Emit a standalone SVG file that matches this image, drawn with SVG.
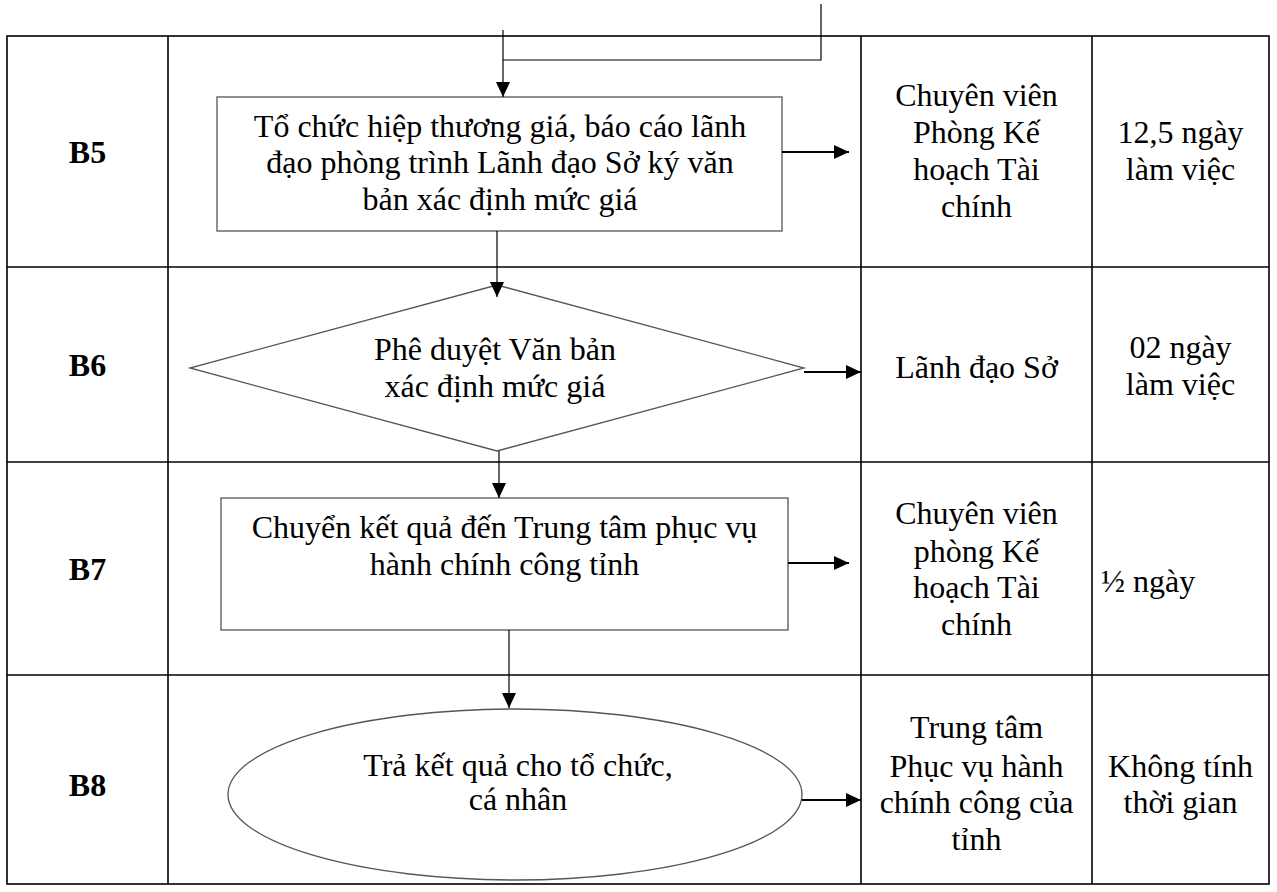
<svg xmlns="http://www.w3.org/2000/svg" width="1277" height="892" viewBox="0 0 1277 892">
<defs>
<marker id="ah" markerWidth="15" markerHeight="14" refX="15" refY="7" orient="auto" markerUnits="userSpaceOnUse">
<path d="M0,0 L15,7 L0,14 Z" fill="#000"/>
</marker>
<style>
.grid{stroke:#000;stroke-width:1.6;fill:none}
.shape{stroke:#555;stroke-width:1.3;fill:#fff}
.t{font-family:"Liberation Serif","Times New Roman",serif;font-size:32px;fill:#000;text-anchor:middle}
.lbl{font-weight:bold}
.tl{text-anchor:start}
.c{stroke:#000;stroke-width:1.2;fill:none}
.ch{stroke:#000;stroke-width:2;fill:none}
</style>
</defs>
<rect width="1277" height="892" fill="#fff"/>
<g id="table">
<rect class="grid" x="7" y="36" width="1262" height="848"/>
<line class="grid" x1="168" y1="36" x2="168" y2="884"/>
<line class="grid" x1="861" y1="36" x2="861" y2="884"/>
<line class="grid" x1="1092" y1="36" x2="1092" y2="884"/>
<line class="grid" x1="7" y1="267" x2="1269" y2="267"/>
<line class="grid" x1="7" y1="462" x2="1269" y2="462"/>
<line class="grid" x1="7" y1="675" x2="1269" y2="675"/>
</g>
<g id="row-b5">
<text class="t lbl" x="87.5" y="163">B5</text>
<g id="node-b5">
<rect class="shape" x="217" y="97" width="565" height="134"/>
<text class="t" x="500" y="137">Tổ chức hiệp thương giá, báo cáo lãnh</text>
<text class="t" x="500" y="173">đạo phòng trình Lãnh đạo Sở ký văn</text>
<text class="t" x="500" y="210">bản xác định mức giá</text>
</g>
<text class="t" x="976.5" y="106">Chuyên viên</text>
<text class="t" x="976.5" y="143">Phòng Kế</text>
<text class="t" x="976.5" y="180">hoạch Tài</text>
<text class="t" x="976.5" y="217">chính</text>
<text class="t" x="1180.5" y="143">12,5 ngày</text>
<text class="t" x="1180.5" y="180">làm việc</text>
</g>
<g id="row-b6">
<text class="t lbl" x="87.5" y="376">B6</text>
<g id="node-b6">
<polygon class="shape" points="497,285 804,368 497,451 190,368"/>
<text class="t" x="495" y="360">Phê duyệt Văn bản</text>
<text class="t" x="495" y="397">xác định mức giá</text>
</g>
<text class="t" x="976.5" y="378">Lãnh đạo Sở</text>
<text class="t" x="1180.5" y="358">02 ngày</text>
<text class="t" x="1180.5" y="395">làm việc</text>
</g>
<g id="row-b7">
<text class="t lbl" x="87.5" y="580">B7</text>
<g id="node-b7">
<rect class="shape" x="221" y="498" width="567" height="132"/>
<text class="t" x="504.5" y="538">Chuyển kết quả đến Trung tâm phục vụ</text>
<text class="t" x="504.5" y="575">hành chính công tỉnh</text>
</g>
<text class="t" x="976.5" y="524">Chuyên viên</text>
<text class="t" x="976.5" y="562">phòng Kế</text>
<text class="t" x="976.5" y="598">hoạch Tài</text>
<text class="t" x="976.5" y="635">chính</text>
<text class="t tl" x="1101" y="592">½ ngày</text>
</g>
<g id="row-b8">
<text class="t lbl" x="87.5" y="796">B8</text>
<g id="node-b8">
<ellipse class="shape" cx="515" cy="794.5" rx="287" ry="85.5"/>
<text class="t" x="518" y="776">Trả kết quả cho tổ chức,</text>
<text class="t" x="518" y="810">cá nhân</text>
</g>
<text class="t" x="976.5" y="738">Trung tâm</text>
<text class="t" x="976.5" y="777">Phục vụ hành</text>
<text class="t" x="976.5" y="813">chính công của</text>
<text class="t" x="976.5" y="850">tỉnh</text>
<text class="t" x="1180.5" y="777">Không tính</text>
<text class="t" x="1180.5" y="813">thời gian</text>
</g>
<g id="connectors">
<path class="c" d="M821,4 V60 H503"/>
<path class="c" d="M503,30 V97" marker-end="url(#ah)"/>
<path class="ch" d="M782,152 H849" marker-end="url(#ah)"/>
<path class="c" d="M497,231 V297" marker-end="url(#ah)"/>
<path class="ch" d="M804,372 H861" marker-end="url(#ah)"/>
<path class="c" d="M499,451 V498" marker-end="url(#ah)"/>
<path class="ch" d="M788,563 H849" marker-end="url(#ah)"/>
<path class="c" d="M509,630 V708" marker-end="url(#ah)"/>
<path class="ch" d="M802,800 H861" marker-end="url(#ah)"/>
</g>
</svg>
